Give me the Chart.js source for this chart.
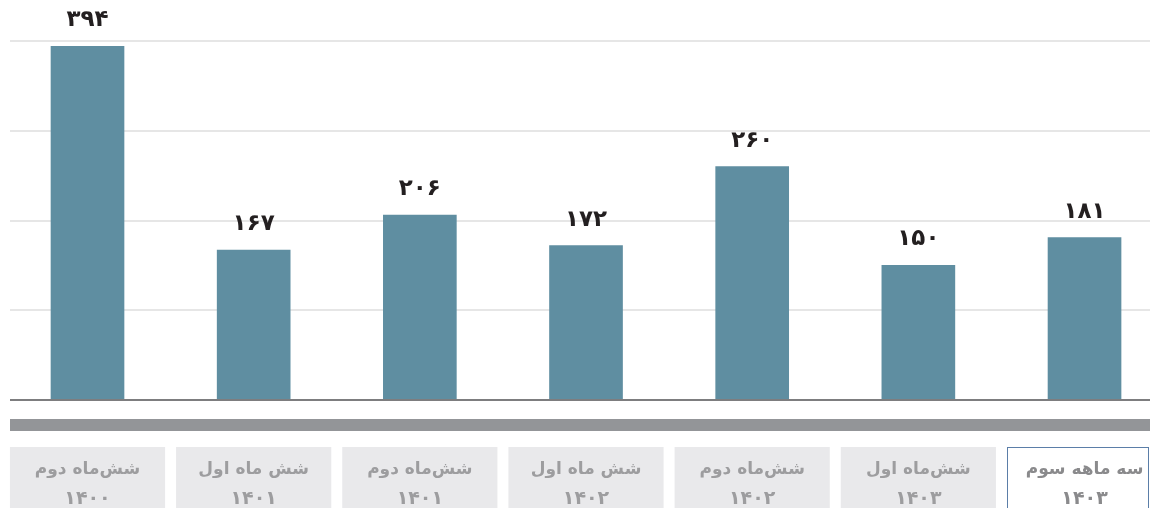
<!DOCTYPE html>
<html lang="fa">
<head>
<meta charset="utf-8">
<script src="https://cdn.jsdelivr.net/npm/chart.js@4.4.1/dist/chart.umd.min.js"></script>
<style>
  html, body { margin: 0; padding: 0; background: #ffffff; overflow: hidden; }
  #wrap { width: 1150px; height: 508px; position: relative; }
</style>
</head>
<body>
<div id="wrap"><canvas id="c" width="1150" height="508"></canvas></div>
<script>
// ---- data ----
const periodLabels = ["شش‌ماه دوم", "شش ماه اول", "شش‌ماه دوم", "شش ماه اول", "شش‌ماه دوم", "شش‌ماه اول", "سه ماهه سوم"];
const yearLabels   = ["۱۴۰۰", "۱۴۰۱", "۱۴۰۱", "۱۴۰۲", "۱۴۰۲", "۱۴۰۳", "۱۴۰۳"];
const values       = [394, 167, 206, 172, 260, 150, 181];
const yTicks       = [0, 100, 200, 300, 400];
const highlightIndex = 6;

const toPersianDigits = n => String(n).replace(/\d/g, d => "۰۱۲۳۴۵۶۷۸۹"[d]);

const FONT = "'DejaVu Sans', 'Noto Sans', sans-serif";

// value labels above bars
const valueLabels = {
  id: 'valueLabels',
  afterDatasetsDraw(chart) {
    const ctx = chart.ctx;
    const meta = chart.getDatasetMeta(0);
    ctx.save();
    ctx.font = "bold 23px " + FONT;
    ctx.fillStyle = "#231f20";
    ctx.textAlign = "center";
    ctx.textBaseline = "middle";
    meta.data.forEach((bar, i) => {
      ctx.fillText(toPersianDigits(values[i]), bar.x, bar.y - 26);
    });
    ctx.restore();
  }
};

// baseline, gray band and category boxes below chart
const categoryBoxes = {
  id: 'categoryBoxes',
  afterDraw(chart) {
    const ctx = chart.ctx;
    const area = chart.chartArea;
    const xs = chart.scales.x;
    const pitch = xs.getPixelForValue(1) - xs.getPixelForValue(0);
    const boxW = pitch - 11;
    ctx.save();
    // baseline
    ctx.fillStyle = "#7d7d7f";
    ctx.fillRect(area.left, area.bottom - 1, area.right - area.left, 2);
    // gray band
    ctx.fillStyle = "#939598";
    ctx.fillRect(area.left, area.bottom + 19, area.right - area.left, 12);
    // boxes
    const top = area.bottom + 47;
    const h = 70;
    periodLabels.forEach((lab, i) => {
      const cx = xs.getPixelForValue(i);
      let l = cx - boxW / 2;
      let r = Math.min(cx + boxW / 2, area.right - 1);
      if (i === highlightIndex) {
        ctx.fillStyle = "#ffffff";
        ctx.fillRect(l, top, r - l, h);
        ctx.strokeStyle = "#5b7ea8";
        ctx.lineWidth = 1;
        ctx.strokeRect(Math.round(l) + 0.5, top + 0.5, Math.round(r - l) - 1, h);
      } else {
        ctx.fillStyle = "#e9e9eb";
        ctx.fillRect(l, top, r - l, h);
      }
      ctx.fillStyle = i === highlightIndex ? "#8a8a8c" : "#9d9d9f";
      ctx.textAlign = "center";
      ctx.textBaseline = "middle";
      ctx.direction = "rtl";
      ctx.font = "bold 17px " + FONT;
      ctx.fillText(lab, cx, top + 23);
      ctx.font = "bold 19px " + FONT;
      ctx.fillText(yearLabels[i], cx, top + 52);
    });
    ctx.restore();
  }
};

new Chart(document.getElementById('c'), {
  type: 'bar',
  data: {
    datasets: [{
      data: values.map((v, i) => ({ x: i, y: v })),
      backgroundColor: "#5f8ea1",
      borderWidth: 0,
      barThickness: 73
    }]
  },
  options: {
    responsive: false,
    animation: false,
    devicePixelRatio: 1,
    layout: { padding: { top: 41, bottom: 108, left: 10, right: 0 } },
    plugins: { legend: { display: false }, tooltip: { enabled: false } },
    scales: {
      x: {
        type: 'linear',
        display: false,
        offset: false,
        grace: 0,
        min: -0.4664,
        max: 6.394
      },
      y: {
        min: yTicks[0],
        max: yTicks[yTicks.length - 1],
        afterBuildTicks: s => { s.ticks = yTicks.map(v => ({ value: v })); },
        ticks: { display: false },
        border: { display: false },
        grid: { color: "#e6e6e6", lineWidth: 2, drawTicks: false }
      }
    }
  },
  plugins: [valueLabels, categoryBoxes]
});
</script>
</body>
</html>
